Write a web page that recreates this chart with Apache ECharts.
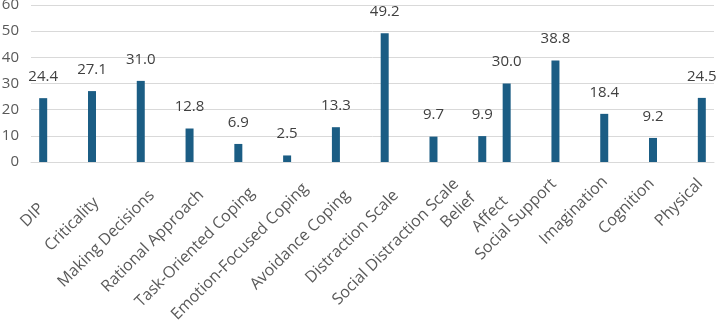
<!DOCTYPE html>
<html>
<head>
<meta charset="utf-8">
<script src="https://cdn.jsdelivr.net/npm/echarts@6/dist/echarts.min.js"></script>
<style>
  html, body { margin: 0; padding: 0; background: #fff; }
  #chart { width: 718px; height: 324px; }
</style>
</head>
<body>
<div id="chart"></div>
<script>
// categories (the 10th slot holds both Belief and Affect, like the source sheet)
const categories = ['DIP', 'Criticality', 'Making Decisions', 'Rational Approach', 'Task-Oriented Coping',
  'Emotion-Focused Coping', 'Avoidance Coping', 'Distraction Scale', 'Social Distraction Scale',
  'Belief     \nAffect', 'Social Support', 'Imagination', 'Cognition', 'Physical']
// first group of scales (left bar in each slot)
const scalesA = [24.4, 27.1, 31.0, 12.8, 6.9, 2.5, 13.3, 49.2, 9.7, 9.9, null, null, null, null]
// second group of scales (right bar in each slot)
const scalesB = [null, null, null, null, null, null, null, null, null, 30.0, 38.8, 18.4, 9.2, 24.5]
const yTicks = { min: 0, max: 60, interval: 10 }

// small nudges (px) so the slanted names sit like the original sheet
const labelNudgeX = [-28, -16, -2, -1, 3, 12, -2, -2, 21, -14, 21, 26, 22, 21]
const labelNudgeY = [0, 0, 0, 0, 0, 0, 0, 0, 0, -18, 0, 0, 0, 0]

const barColor = '#1b5d84'
const textFont = '"Open Sans", "Noto Sans", sans-serif'

const chart = echarts.init(document.getElementById('chart'), null, { renderer: 'canvas' })

// a screen shift of a label turned 45deg, written as text padding (top aligned, right aligned)
function nudged(name, i) {
  const dx = labelNudgeX[i]
  const dy = labelNudgeY[i]
  const textStyle = { padding: [(dx + dy) / Math.SQRT2, -(dx - dy) / Math.SQRT2, 0, 0] }
  if (name.indexOf('\n') >= 0) textStyle.lineHeight = 25
  return { value: name, textStyle }
}

const valueLabel = {
  show: true,
  position: 'top',
  distance: 14,
  color: '#404040',
  fontSize: 15,
  fontFamily: textFont,
  formatter: p => p.value == null ? '' : Number(p.value).toFixed(1)
}

chart.setOption({
  animation: false,
  grid: { left: 31, right: 4, top: 5, bottom: 162, containLabel: false, outerBoundsMode: 'none' },
  xAxis: {
    type: 'category',
    data: categories.map(nudged),
    axisTick: { show: false },
    axisLine: { lineStyle: { color: '#d9d9d9', width: 1 } },
    axisLabel: {
      interval: 0,
      rotate: 45,
      margin: 30,
      align: 'right',
      verticalAlign: 'top',
      color: '#595959',
      fontSize: 16,
      fontFamily: textFont,
      lineHeight: 18
    }
  },
  yAxis: {
    type: 'value',
    min: yTicks.min,
    max: yTicks.max,
    interval: yTicks.interval,
    axisLine: { show: false },
    axisTick: { show: false },
    splitLine: { lineStyle: { color: '#d9d9d9', width: 1 } },
    axisLabel: {
      margin: 12,
      color: '#595959',
      fontSize: 15,
      fontFamily: textFont
    }
  },
  series: [
    {
      name: 'A',
      type: 'bar',
      data: scalesA,
      barWidth: 8,
      barGap: '205%',
      itemStyle: { color: barColor },
      label: valueLabel
    },
    {
      name: 'B',
      type: 'bar',
      data: scalesB,
      barWidth: 8,
      itemStyle: { color: barColor },
      label: valueLabel
    }
  ]
})
</script>
</body>
</html>
